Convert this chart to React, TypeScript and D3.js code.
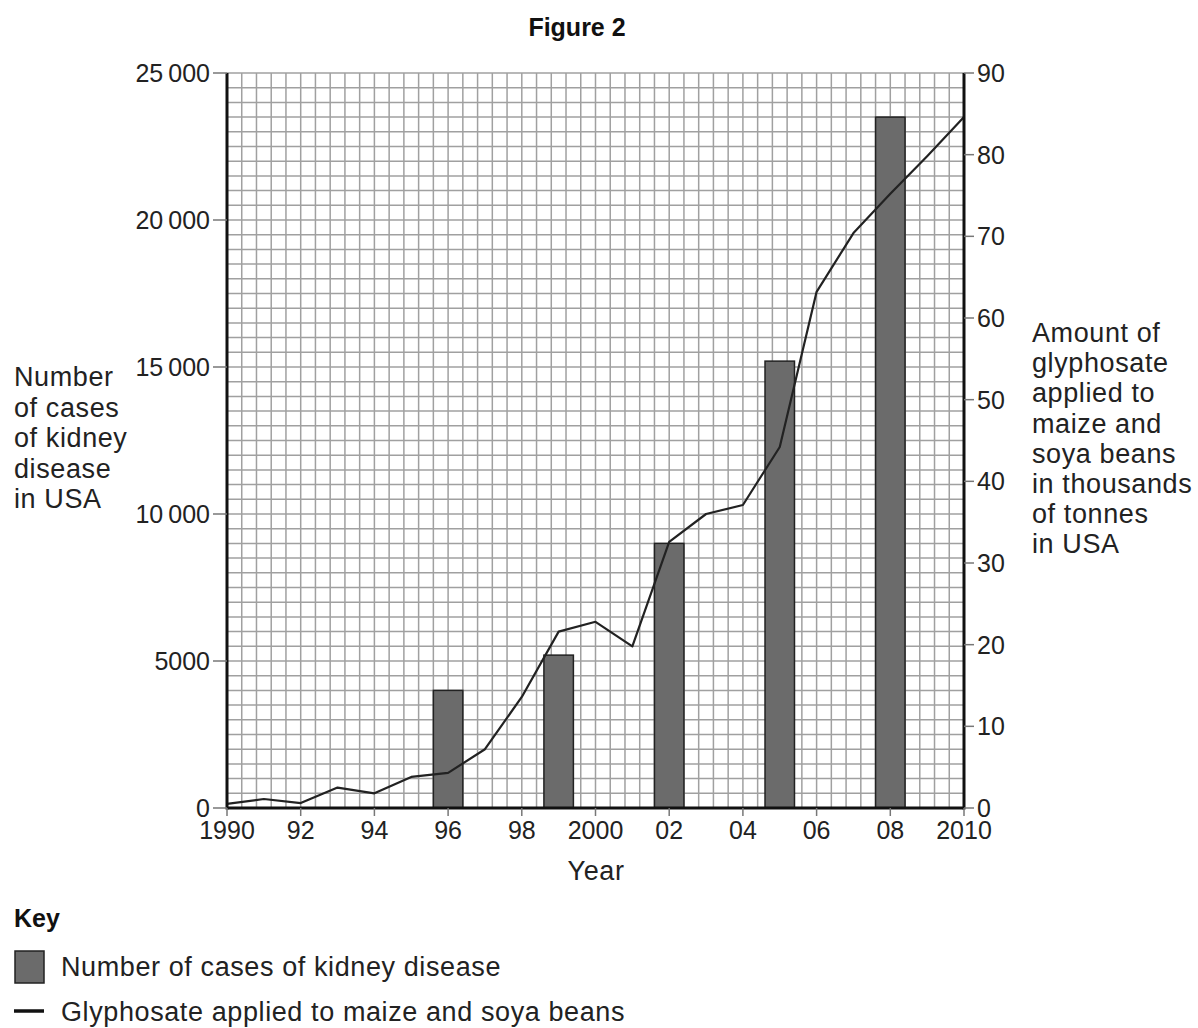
import React from 'react';
import * as d3 from 'd3';

// bar data: kidney disease cases
const barYears = [1996, 1999, 2002, 2005, 2008];
const cases = [4000, 5200, 9000, 15200, 23500];

// line data: glyphosate (thousands of tonnes)
const lineYears = [1990, 1991, 1992, 1993, 1994, 1995, 1996, 1997, 1998, 1999, 2000,
  2001, 2002, 2003, 2004, 2005, 2006, 2007, 2008, 2009, 2010];
const glyphosate = [0.5, 1.1, 0.6, 2.5, 1.8, 3.8, 4.3, 7.2, 13.6, 21.6, 22.8,
  19.8, 32.6, 36.0, 37.1, 44.2, 63.2, 70.4, 75.2, 79.8, 84.6];

const leftTicks = [0, 5000, 10000, 15000, 20000, 25000];
const leftTickLabels = ['0', '5000', '10\u2009000', '15\u2009000', '20\u2009000', '25\u2009000'];
const rightTicks = [0, 10, 20, 30, 40, 50, 60, 70, 80, 90];
const xTicks = [1990, 1992, 1994, 1996, 1998, 2000, 2002, 2004, 2006, 2008, 2010];
const xTickLabels = ['1990', '92', '94', '96', '98', '2000', '02', '04', '06', '08', '2010'];

const leftLabel = ['Number', 'of cases', 'of kidney', 'disease', 'in USA'];
const rightLabel = ['Amount of', 'glyphosate', 'applied to', 'maize and', 'soya beans',
  'in thousands', 'of tonnes', 'in USA'];

const W = 1198;
const H = 1028;
const m = { left: 227, right: 964, top: 73, bottom: 808 };
const font = 'Liberation Sans, Arial, sans-serif';
const ink = '#222';

export default function App() {
  const x = d3.scaleLinear().domain([1990, 2010]).range([m.left, m.right]);
  const yL = d3.scaleLinear().domain([0, 25000]).range([m.bottom, m.top]);
  const yR = d3.scaleLinear().domain([0, 90]).range([m.bottom, m.top]);

  // fine graph-paper grid: 0.4 year by 500 cases
  const gridX = d3.range(0, 51).map(i => 1990 + i * 0.4);
  const gridY = d3.range(0, 51).map(i => i * 500);
  const barW = x(1990.8) - x(1990);

  const line = d3.line<number>()
    .x((_, i) => x(lineYears[i]))
    .y(d => yR(d));

  const label = { fontSize: 27, letterSpacing: 0.6, fill: ink } as const;

  return (
    <svg width={W} height={H} style={{ position: 'absolute', left: 0, top: 0, background: '#fff' }}
      fontFamily={font}>
      <text x={577} y={36} textAnchor="middle" fontSize={25} fontWeight="bold" fill="#111">Figure 2</text>

      {/* grid */}
      <g stroke="#a0a0a0" strokeWidth={1.5}>
        {gridX.map((g, i) => (
          <line key={'gx' + i} x1={x(g)} x2={x(g)} y1={m.top} y2={m.bottom} />
        ))}
        {gridY.map((g, i) => (
          <line key={'gy' + i} x1={m.left} x2={m.right} y1={yL(g)} y2={yL(g)} />
        ))}
      </g>

      {/* bars */}
      {cases.map((c, i) => (
        <rect key={'b' + i} x={x(barYears[i]) - barW / 2} y={yL(c)} width={barW}
          height={yL(0) - yL(c)} fill="#6b6b6b" stroke={ink} strokeWidth={1.5} />
      ))}

      {/* line */}
      <path d={line(glyphosate) || ''} fill="none" stroke={ink} strokeWidth={2.2} strokeLinejoin="round" />

      {/* axes */}
      <g stroke="#111" strokeWidth={3}>
        <line x1={m.left} x2={m.left} y1={m.top} y2={m.bottom + 1.5} />
        <line x1={m.right} x2={m.right} y1={m.top} y2={m.bottom + 1.5} />
        <line x1={m.left} x2={m.right} y1={m.bottom} y2={m.bottom} />
      </g>

      {/* left ticks */}
      {leftTicks.map((t, i) => (
        <g key={'lt' + i}>
          <line x1={m.left - 14} x2={m.left} y1={yL(t)} y2={yL(t)} stroke="#777" strokeWidth={1.5} />
          <text x={m.left - 17} y={yL(t) + 9} textAnchor="end" fontSize={25} fill={ink}>{leftTickLabels[i]}</text>
        </g>
      ))}

      {/* right ticks */}
      {rightTicks.map((t, i) => (
        <g key={'rt' + i}>
          <line x1={m.right} x2={m.right + 10} y1={yR(t)} y2={yR(t)} stroke="#777" strokeWidth={1.5} />
          <text x={m.right + 13} y={yR(t) + 9} textAnchor="start" fontSize={25} fill={ink}>{t}</text>
        </g>
      ))}

      {/* bottom ticks */}
      {xTicks.map((t, i) => (
        <g key={'xt' + i}>
          <line x1={x(t)} x2={x(t)} y1={m.bottom} y2={m.bottom + 8} stroke="#777" strokeWidth={1.5} />
          <text x={x(t)} y={m.bottom + 31} textAnchor="middle" fontSize={25} fill={ink}>{xTickLabels[i]}</text>
        </g>
      ))}

      <text x={596} y={880} textAnchor="middle" {...label}>Year</text>

      {leftLabel.map((s, i) => (
        <text key={'ll' + i} x={14} y={386 + i * 30.5} {...label}>{s}</text>
      ))}
      {rightLabel.map((s, i) => (
        <text key={'rl' + i} x={1032} y={342 + i * 30.2} {...label}>{s}</text>
      ))}

      {/* key */}
      <text x={14} y={927} fontSize={25} fontWeight="bold" fill="#111">Key</text>
      <rect x={15} y={951} width={29} height={32} fill="#6b6b6b" stroke={ink} strokeWidth={1.5} />
      <text x={61} y={976} {...label}>Number of cases of kidney disease</text>
      <line x1={14} x2={44} y1={1011} y2={1011} stroke="#111" strokeWidth={3.5} />
      <text x={61} y={1021} {...label}>Glyphosate applied to maize and soya beans</text>
    </svg>
  );
}
